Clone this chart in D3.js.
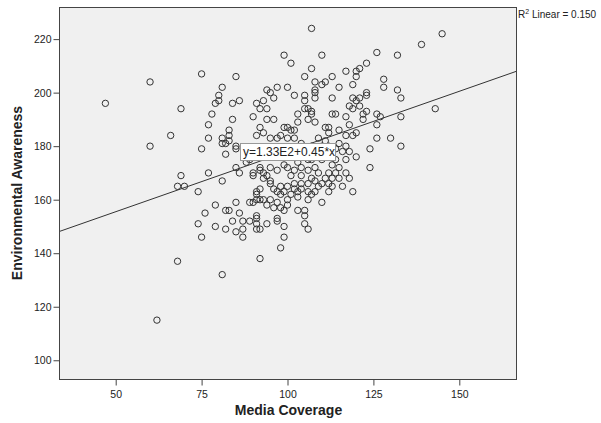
<!DOCTYPE html>
<html lang="en">
<head>
<meta charset="UTF-8">
<title>Media Coverage vs Environmental Awareness</title>
<style>
    body {
        margin: 0;
        background: #fff;
    }
    svg text {
        font-family: "Liberation Sans", Arial, sans-serif;
        fill: #222;
    }
    .point {
        fill: none;
        stroke: #333;
        stroke-width: 1;
    }
    .fit {
        stroke: #333;
        stroke-width: 1;
    }
</style>
</head>
<body>
<div id="chart"></div>
<script src="https://d3js.org/d3.v7.min.js"></script>
<script>
    // media coverage (x) and environmental awareness (y), paired by index
    const mediaCoverage = [
        60, 75, 47, 69, 80, 79, 78, 77, 66, 77, 60, 75, 69, 77, 68, 70, 74, 79, 76, 74, 79, 75, 68, 62, 81,
        145, 139, 143, 133, 133, 133,
        107, 110, 126, 132, 107, 105, 117, 120, 120, 121, 123, 128, 128, 132, 108, 111, 110, 113, 108, 108,
        115, 119, 105, 105, 108, 113, 123, 123, 119, 121, 120, 118, 121, 119, 123, 122, 126, 127, 122, 105,
        106, 107, 107, 113, 114, 117, 106, 108, 118, 126, 111, 112, 112, 115, 120, 126, 130,
        99, 101, 85, 81, 80, 84, 86, 84, 83, 83, 81, 94, 95, 97, 100, 102, 96, 91, 93, 92, 94, 90, 94, 96,
        103, 103, 92, 91, 93, 95, 97, 98, 99, 100, 101, 102, 100, 102,
        81, 82, 83, 85, 85, 82, 81, 85, 86, 85, 82, 83, 86, 84, 82, 85, 87, 87, 87, 89, 90, 91, 92, 93,
        89, 91, 91, 91, 91, 92, 94, 97, 97, 99, 99, 98, 92,
        124, 124, 117, 119, 120, 113, 114, 112, 113, 112, 112, 107, 106, 106, 110, 105, 105, 106,
        88, 89, 92, 92, 93, 93, 94, 95, 92, 91, 91, 97, 98, 99, 100, 100, 99, 98, 102, 102, 103, 103, 95, 96, 98, 90, 90,
        104, 105, 107, 108, 110, 109, 107, 106, 104, 110, 111, 104, 106, 108, 109, 108, 110, 107,
        95, 97, 99, 100, 102, 103, 101,
        116, 118, 117, 119, 117, 117,
        94, 95, 96, 97, 101, 100, 104, 104, 106, 108, 109, 111, 113, 115, 115, 116, 118, 114, 113, 112,
        114, 115, 111, 109, 104, 103, 105
    ];
    const envAwareness = [
        204, 207, 196, 194, 199, 196, 192, 188, 184, 183, 180, 179, 169, 170, 165, 165, 163, 158, 155, 151, 150, 146, 137, 115, 132,
        222, 218, 194, 198, 191, 180,
        224, 214, 215, 214, 209, 206, 208, 208, 206, 209, 211, 205, 202, 201, 204, 204, 203, 206, 201, 200,
        202, 203, 199, 197, 198, 198, 200, 199, 198, 198, 197, 195, 195, 194, 193, 192, 192, 191, 190, 194,
        194, 193, 192, 192, 192, 191, 190, 189, 188, 188, 187, 187, 185, 186, 185, 183, 183,
        214, 211, 206, 202, 197, 196, 197, 190, 186, 184, 183, 201, 200, 202, 202, 199, 198, 196, 197, 194, 194, 191, 190, 190,
        192, 189, 187, 184, 185, 183, 183, 184, 187, 187, 186, 186, 183, 183,
        181, 181, 182, 180, 179, 177, 167, 172, 170, 159, 156, 156, 155, 152, 149, 148, 149, 146, 152, 159, 159, 160, 160, 160,
        152, 153, 154, 151, 149, 149, 151, 153, 152, 150, 146, 142, 138,
        179, 172, 170, 163, 176, 173, 170, 170, 165, 166, 163, 162, 163, 160, 159, 156, 154, 149,
        174, 175, 172, 171, 170, 168, 169, 167, 164, 163, 162, 163, 162, 163, 160, 158, 156, 157, 166, 164, 163, 161, 166, 164, 165, 170, 169,
        181, 179, 180, 179, 180, 177, 175, 175, 176, 175, 177, 172, 171, 172, 170, 167, 166, 168,
        172, 171, 173, 172, 171, 174, 169,
        178, 178, 180, 184, 184, 175,
        158, 160, 157, 159, 162, 165, 166, 169, 166, 163, 165, 168, 168, 172, 168, 165, 168, 175, 177, 180,
        179, 181, 182, 183, 164, 156, 151
    ];

    const xTicks = [50, 75, 100, 125, 150];
    const yTicks = [100, 120, 140, 160, 180, 200, 220];
    const xDomain = [33.5, 166.5];
    const yDomain = [93, 232];
    // linear fit: intercept, slope
    const fitCoef = [133, 0.45];
    const fitText = "y=1.33E2+0.45*x";
    const r2Text = "0.150";

    const width = 601, height = 423;
    const plot = { left: 59, right: 516, top: 7, bottom: 379 };

    const svg = d3.select("#chart")
        .append("svg")
        .attr("width", width)
        .attr("height", height);

    const x = d3.scaleLinear().domain(xDomain).range([plot.left, plot.right]);
    const y = d3.scaleLinear().domain(yDomain).range([plot.bottom, plot.top]);

    // plot background + frame
    svg.append("rect")
        .attr("x", plot.left + 0.5)
        .attr("y", plot.top + 0.5)
        .attr("width", plot.right - plot.left)
        .attr("height", plot.bottom - plot.top)
        .attr("fill", "#f0f0f0")
        .attr("stroke", "#444")
        .attr("stroke-width", 1);

    // axes
    const yAxis = svg.append("g")
        .attr("transform", `translate(${plot.left + 0.5},0)`)
        .call(d3.axisLeft(y).tickValues(yTicks).tickSize(6).tickPadding(2));
    const xAxis = svg.append("g")
        .attr("transform", `translate(0,${plot.bottom + 0.5})`)
        .call(d3.axisBottom(x).tickValues(xTicks).tickSize(6).tickPadding(5));

    [xAxis, yAxis].forEach(g => {
        g.select(".domain").remove();
        g.selectAll(".tick line").attr("stroke", "#444");
        g.selectAll(".tick text")
            .attr("font-size", "10.5px")
            .attr("font-family", "Liberation Sans, Arial, sans-serif")
            .attr("fill", "#222");
    });

    // clip to the frame
    svg.append("clipPath").attr("id", "clip")
        .append("rect")
        .attr("x", plot.left + 1)
        .attr("y", plot.top + 1)
        .attr("width", plot.right - plot.left - 1)
        .attr("height", plot.bottom - plot.top - 1);

    const pts = svg.append("g").attr("clip-path", "url(#clip)");

    // fit line across the whole frame
    pts.append("line")
        .attr("class", "fit")
        .attr("x1", x(xDomain[0]))
        .attr("y1", y(fitCoef[0] + fitCoef[1] * xDomain[0]))
        .attr("x2", x(xDomain[1]))
        .attr("y2", y(fitCoef[0] + fitCoef[1] * xDomain[1]));

    pts.selectAll(".point")
        .data(mediaCoverage.map((d, i) => [d, envAwareness[i]]))
        .enter().append("circle")
        .attr("class", "point")
        .attr("cx", d => x(d[0]))
        .attr("cy", d => y(d[1]))
        .attr("r", 3.2);

    // fit equation label
    const lbl = svg.append("g").attr("transform", "translate(240,143)");
    lbl.append("rect")
        .attr("x", 0.5).attr("y", 0.5)
        .attr("width", 95).attr("height", 17)
        .attr("fill", "#fff")
        .attr("stroke", "#999");
    lbl.append("text")
        .attr("x", 3).attr("y", 13)
        .attr("font-size", "12px")
        .text(fitText);

    // R2 label
    const r2 = svg.append("text")
        .attr("x", 518)
        .attr("y", 18)
        .attr("font-size", "10px");
    r2.append("tspan").text("R");
    r2.append("tspan").attr("font-size", "7px").attr("dy", -4).text("2");
    r2.append("tspan").attr("dy", 4).text(" Linear = " + r2Text);

    // titles
    svg.append("text")
        .attr("x", (plot.left + plot.right) / 2 + 1)
        .attr("y", 415)
        .attr("text-anchor", "middle")
        .attr("font-size", "14px")
        .attr("font-weight", "bold")
        .text("Media Coverage");

    svg.append("text")
        .attr("transform", `translate(22,${(plot.top + plot.bottom) / 2}) rotate(-90)`)
        .attr("text-anchor", "middle")
        .attr("font-size", "14px")
        .attr("font-weight", "bold")
        .text("Environmental Awareness");
</script>
</body>
</html>
